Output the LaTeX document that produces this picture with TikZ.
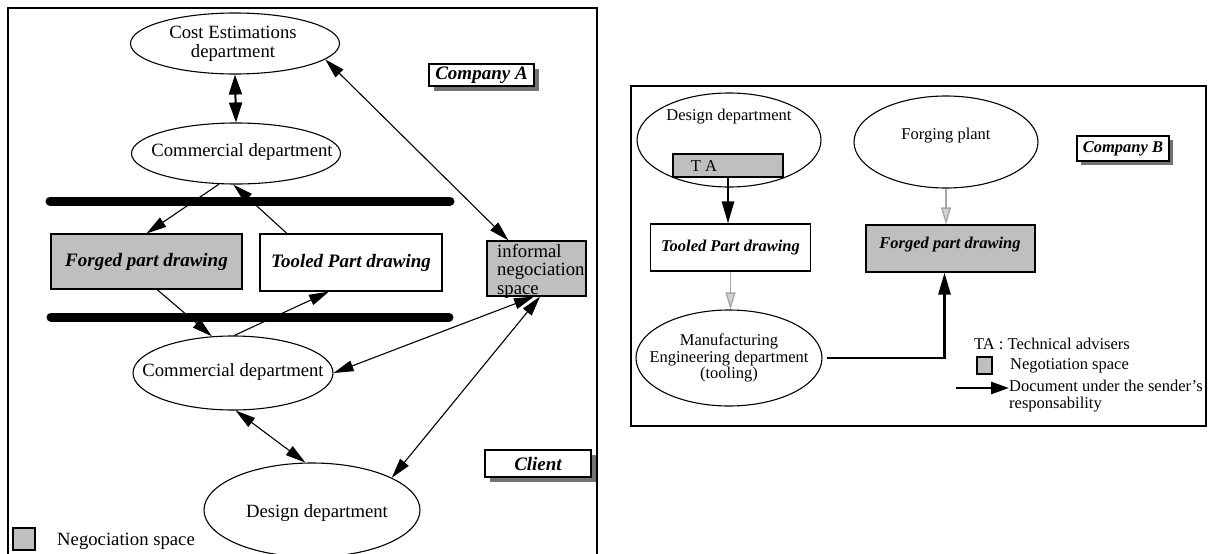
\documentclass[tikz,border=0pt]{standalone}
\usepackage{fontspec}
\setmainfont{Liberation Serif}
\usetikzlibrary{shapes.geometric,arrows.meta,calc,shadows}
\begin{document}
\begin{tikzpicture}[x=1pt,y=-1pt,
  ell/.style={ellipse,draw,line width=1.1pt,inner sep=0pt},
  box/.style={rectangle,draw,line width=1.1pt,inner sep=0pt,fill=white},
  gbox/.style={rectangle,draw,line width=1.1pt,inner sep=0pt,fill=black!25},
  shbox/.style={box,drop shadow={shadow xshift=5pt,shadow yshift=-5pt,fill=black!55,opacity=1}},
  lt/.style={font=\fontsize{18.7}{18.5}\selectfont,inner sep=0pt,align=center},
  rt/.style={font=\fontsize{16.5}{16.5}\selectfont,inner sep=0pt,align=center},
  bi/.style={font=\fontsize{19}{19}\selectfont\bfseries\itshape},
  bir/.style={font=\fontsize{16.5}{16.5}\selectfont\bfseries\itshape},
  arr/.style={line width=1.1pt,-{Triangle[length=20pt,width=11pt]}},
  darr/.style={line width=1.1pt,{Triangle[length=20pt,width=11pt]}-{Triangle[length=20pt,width=11pt]}},
  bigdarr/.style={line width=2pt,{Triangle[length=20pt,width=13pt]}-{Triangle[length=20pt,width=13pt]}},
  tarr/.style={line width=2.6pt,-{Triangle[length=22pt,width=12pt]}},
  garr/.style={line width=1.3pt,draw=black!35,-{Triangle[length=17pt,width=10pt,fill=black!18]}},
  bar/.style={line width=9pt,line cap=round}
]
\useasboundingbox (0,0) rectangle (1208,554);
% ---------------- left panel ----------------
\draw[line width=2pt] (8,560) -- (8,8) -- (597,8) -- (597,560);
\node[ell,minimum width=209pt,minimum height=61pt] (cost) at (235,43.5) {};
\node[lt] (costt) at (233,44) {Cost Estimations\\department};
\node[ell,minimum width=209pt,minimum height=61pt] (comU) at (236,153.5) {};
\node[lt] (comUt) at (242,152) {Commercial department};
\node[shbox,minimum width=105pt,minimum height=22pt,bi] (compA) at (481.5,75) {Company A};
\draw[bar] (50,201) -- (450,201);
\draw[bar] (51,317) -- (449,317);
\node[gbox,minimum width=191pt,minimum height=55pt,bi] (forgedA) at (146.5,261.5) {Forged part drawing};
\node[box,minimum width=182pt,minimum height=57pt,bi] (tooledA) at (351,262.5) {Tooled Part drawing};
\node[gbox,minimum width=99pt,minimum height=55pt] (inf) at (536.5,268.5) {};
\node[lt,anchor=west,align=left] (inft) at (497,271) {informal\\negociation\\space};
\node[ell,minimum width=200pt,minimum height=74pt] (comL) at (233,373) {};
\node[lt] (comLt) at (233,372) {Commercial department};
\node[ell,minimum width=216pt,minimum height=94pt] (design) at (312,510) {};
\node[lt] (designt) at (317,513) {Design department};
\node[shbox,minimum width=106pt,minimum height=27pt,bi] (client) at (538,463.5) {Client};
\node[gbox,minimum width=22pt,minimum height=22pt] (legA) at (24,539) {};
\node[lt,anchor=west] (legAt) at (57,541) {Negociation space};
% arrows left
\draw[bigdarr] (cost.south) -- (comU.north);
\draw[darr] (cost.-10) -- ($(inf.north west)!0.22!(inf.north east)$);
\draw[arr] (comU.-119) -- (forgedA.north);
\draw[arr] ($(tooledA.north west)!0.15!(tooledA.north east)$) -- (comU.-95);
\draw[arr] ($(forgedA.south west)!0.555!(forgedA.south east)$) -- (comL.120);
\draw[arr] (comL.88) -- ($(tooledA.south west)!0.38!(tooledA.south east)$);
\draw[darr] (comL.0) -- ($(inf.south west)!0.475!(inf.south east)$);
\draw[darr] (design.22) -- ($(inf.south west)!0.535!(inf.south east)$);
\draw[darr] (comL.-86) -- (design.98);
% ---------------- right panel ----------------
\draw[line width=2pt] (631,86) rectangle (1206,426);
\node[ell,minimum width=184pt,minimum height=94pt] (designB) at (729,140) {};
\node[rt] (designBt) at (729,117) {Design department};
\node[gbox,minimum width=110pt,minimum height=23pt] (ta) at (728,165.5) {};
\node[rt] (tat) at (704,166) {T A};
\node[ell,minimum width=184pt,minimum height=92pt] (forging) at (946,142) {};
\node[rt] (forgingt) at (946,136) {Forging plant};
\node[box,minimum width=92pt,minimum height=25pt,bir,drop shadow={shadow xshift=4pt,shadow yshift=-4pt,fill=black!55,opacity=1}] (compB) at (1123,148.5) {Company B};
\node[box,minimum width=160pt,minimum height=47pt,bir] (tooledB) at (730.5,247.5) {Tooled Part drawing};
\node[gbox,minimum width=169pt,minimum height=47pt] (forgedB) at (950.5,248.5) {};
\node[bir,inner sep=0pt] (forgedBt) at (950,245) {Forged part drawing};
\node[ell,minimum width=186pt,minimum height=96pt] (manuf) at (729,358) {};
\node[rt] (manuft) at (729,358) {Manufacturing\\Engineering department\\(tooling)};
\draw[tarr] (ta.south) -- (ta.south |- tooledB.north);
\draw[garr] (tooledB.south) -- (tooledB.south |- manuf.north);
\draw[garr] (forging.south) -- (forging.south |- forgedB.north);
\draw[tarr] ([xshift=4pt]manuf.east) -| ([xshift=-6pt]forgedB.south);
% legend right
\node[rt,anchor=west] (legta) at (974,344) {TA : Technical advisers};
\node[gbox,minimum width=15pt,minimum height=17pt] (legsq) at (984.5,365.5) {};
\node[rt,anchor=west] (legneg) at (1010,366) {Negotiation space};
\coordinate (legs) at (956,388);
\node[rt,anchor=west,align=left] (legdoc) at (1009,396) {Document under the sender's\\responsability};
\draw[line width=2.6pt,-{Triangle[length=18pt,width=12pt]}] (legs) -- (legdoc.west |- legs);
\end{tikzpicture}
\end{document}
